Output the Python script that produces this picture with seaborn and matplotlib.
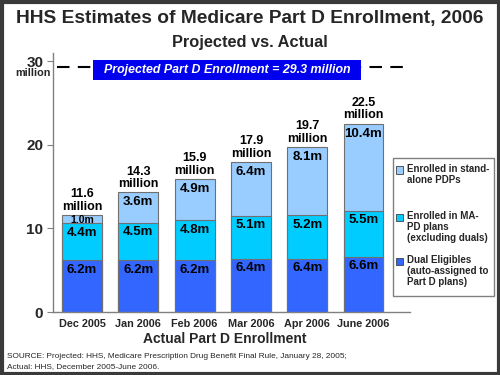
import matplotlib
matplotlib.use("Agg")
import matplotlib.pyplot as plt
import seaborn as sns
import pandas as pd
import numpy as np
from matplotlib.patches import Rectangle

months = ["Dec 2005", "Jan 2006", "Feb 2006", "Mar 2006", "Apr 2006", "June 2006"]
dual = [6.2, 6.2, 6.2, 6.4, 6.4, 6.6]
mapd = [4.4, 4.5, 4.8, 5.1, 5.2, 5.5]
pdp = [1.0, 3.6, 4.9, 6.4, 8.1, 10.4]
totals = [11.6, 14.3, 15.9, 17.9, 19.7, 22.5]
projected = 29.3
yticks = [0, 10, 20, 30]

legend_labels = ["Enrolled in stand-\nalone PDPs",
                 "Enrolled in MA-\nPD plans\n(excluding duals)",
                 "Dual Eligibles\n(auto-assigned to\nPart D plans)"]

c_dual = "#3366FF"
c_mapd = "#00CCFF"
c_pdp = "#99CCFF"
edge = "#707070"

sns.set_theme(style="white")
plt.rcParams['font.family'] = ['Liberation Sans', 'DejaVu Sans']

df = pd.DataFrame({"month": months, "dual": dual, "mapd": mapd, "pdp": pdp})
df["lvl2"] = df["dual"] + df["mapd"]
df["lvl3"] = df["lvl2"] + df["pdp"]

fig = plt.figure(figsize=(5, 3.75), dpi=100)
ax = fig.add_axes([0.106, 0.168, 0.714, 0.691])

for col, color in [("lvl3", c_pdp), ("lvl2", c_mapd), ("dual", c_dual)]:
    sns.barplot(data=df, x="month", y=col, color=color, width=0.71,
                edgecolor=edge, linewidth=0.8, ax=ax, saturation=1)

ax.set_xlim(-0.515, 5.826)
ax.set_ylim(0, 31)
ax.set_yticks(yticks)
ax.set_yticklabels([str(t) for t in yticks], fontsize=11, fontweight="bold")
ax.tick_params(axis="y", length=4, width=0.8, color="#808080", pad=3, left=True)
ax.tick_params(axis="x", length=0, pad=5)
ax.set_xticks(range(len(months)))
ax.set_xticklabels(months, fontsize=7.8, fontweight="bold")
ax.set_xlabel("")
ax.set_ylabel("")
for s in ["top", "right"]:
    ax.spines[s].set_visible(False)
for s in ["left", "bottom"]:
    ax.spines[s].set_color("#808080")
    ax.spines[s].set_linewidth(1.0)

# segment labels
for i in range(len(months)):
    ax.text(i, dual[i] - 1.15, f"{dual[i]:.1f}m", ha="center", va="center",
            fontsize=9.5, fontweight="bold", color="black")
    ax.text(i, dual[i] + mapd[i] - 1.15, f"{mapd[i]:.1f}m", ha="center", va="center",
            fontsize=9.5, fontweight="bold", color="black")
    if pdp[i] < 2:
        ax.text(i, totals[i] - 0.55, f"{pdp[i]:.1f}m", ha="center", va="center",
                fontsize=7.5, fontweight="bold", color="black")
    else:
        ax.text(i, totals[i] - 1.15, f"{pdp[i]:.1f}m", ha="center", va="center",
                fontsize=9.5, fontweight="bold", color="black")
    ax.text(i, totals[i] + 0.3, f"{totals[i]:.1f}\nmillion", ha="center", va="bottom",
            fontsize=9, fontweight="bold", color="black", linespacing=1.05)

# projected line
ax.plot([-0.45, 5.826], [projected, projected], color="black", lw=1.5,
        dashes=(6, 4), clip_on=False, zorder=1)
bx0, bx1 = 0.195, 4.955
ax.add_patch(Rectangle((bx0, 27.7), bx1 - bx0, 2.4, facecolor="#0000EE",
                       edgecolor="none", zorder=2, clip_on=False))
ax.text((bx0 + bx1) / 2, 28.9, f"Projected Part D Enrollment = {projected} million",
        ha="center", va="center", fontsize=8.9, fontweight="bold", style="italic",
        color="white", zorder=3)
ax.text(-0.56, 28.55, "million", ha="right", va="center", fontsize=7.8,
        fontweight="bold", transform=ax.transData, clip_on=False)

# titles
fig.text(0.5, 0.952, "HHS Estimates of Medicare Part D Enrollment, 2006", ha="center",
         va="center", fontsize=13.8, fontweight="bold")
fig.text(0.5, 0.888, "Projected vs. Actual", ha="center", va="center",
         fontsize=11.8, fontweight="bold")
fig.text(225 / 500, 1 - 339 / 375, "Actual Part D Enrollment", ha="center", va="center",
         fontsize=10, fontweight="bold")
fig.text(7 / 500, 1 - 356 / 375,
         "SOURCE: Projected: HHS, Medicare Prescription Drug Benefit Final Rule, January 28, 2005;",
         ha="left", va="center", fontsize=5.95)
fig.text(7 / 500, 1 - 367 / 375, "Actual: HHS, December 2005-June 2006.",
         ha="left", va="center", fontsize=5.95)

# legend box (manual)
lx0, ly0, lx1, ly1 = 393, 158, 494, 296
fig.patches.append(Rectangle((lx0 / 500, 1 - ly1 / 375), (lx1 - lx0) / 500, (ly1 - ly0) / 375,
                             transform=fig.transFigure, facecolor="white", edgecolor="#808080",
                             lw=1.0))
entry_y = [170, 217, 261]
for lab, col, yy in zip(legend_labels, [c_pdp, c_mapd, c_dual], entry_y):
    fig.patches.append(Rectangle((395.5 / 500, 1 - (yy + 3.5) / 375), 7 / 500, 7 / 375,
                                 transform=fig.transFigure, facecolor=col,
                                 edgecolor="#404040", lw=0.6))
    fig.text(407 / 500, 1 - (yy - 6) / 375, lab, ha="left", va="top", fontsize=7,
             fontweight="bold", linespacing=1.15)

# outer border
fig.patches.append(Rectangle((0.003, 0.004), 0.994, 0.992, transform=fig.transFigure,
                             facecolor="none", edgecolor="#3a3a3a", lw=3))

fig.savefig("out.png", dpi=100)
